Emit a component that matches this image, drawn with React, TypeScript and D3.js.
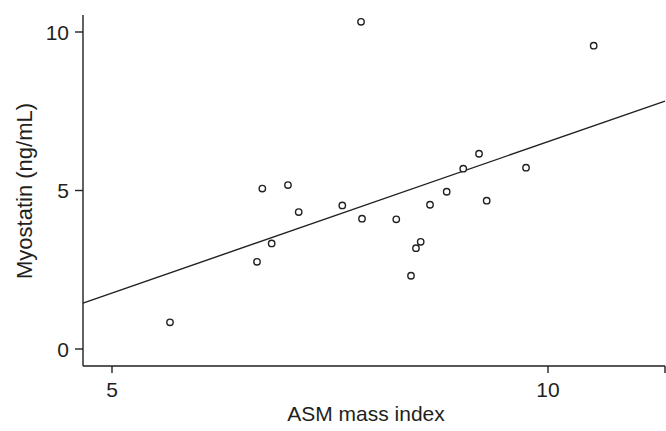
import React from "react";
import * as d3 from "d3";

const asmIndex = [5.665, 6.663, 6.724, 6.831, 7.018, 7.141, 7.641, 7.856, 7.867, 8.26, 8.429, 8.486, 8.54, 8.647, 8.838, 9.028, 9.209, 9.297, 9.748, 10.524];
const myostatin = [0.84, 2.75, 5.06, 3.33, 5.17, 4.32, 4.53, 10.32, 4.11, 4.09, 2.31, 3.18, 3.38, 4.55, 4.96, 5.69, 6.16, 4.68, 5.72, 9.57];
const xTicks = [5, 10];
const yTicks = [0, 5, 10];
const fitSlope = 0.955;
const fitIntercept = -3.01;

const W = 666, H = 431;
const left = 83, right = 665, top = 15, bottom = 366;
const ink = "#231f20";

export default function App() {
  const x = d3.scaleLinear().domain([5, 10]).range([112, 548]);
  const y = d3.scaleLinear().domain([0, 10]).range([349, 32]);
  const xMin = x.invert(left), xMax = x.invert(right);
  const line = d3.line<number>().x(v => x(v)).y(v => y(fitSlope * v + fitIntercept));
  const font = "Arial, 'Liberation Sans', sans-serif";
  return (
    <svg width={W} height={H} style={{ position: "absolute", left: 0, top: 0, background: "#fff" }} fontFamily={font}>
      <line x1={left} x2={left} y1={top} y2={bottom} stroke={ink} strokeWidth={1.4} />
      <line x1={left} x2={right} y1={bottom} y2={bottom} stroke={ink} strokeWidth={1.4} />
      {yTicks.map(t => (
        <g key={"y" + t}>
          <line x1={left - 8} x2={left} y1={y(t)} y2={y(t)} stroke={ink} strokeWidth={1.4} />
          <text x={left - 14} y={y(t)} dy="0.36em" textAnchor="end" fontSize={21} fill={ink}>{t}</text>
        </g>
      ))}
      {xTicks.map(t => (
        <g key={"x" + t}>
          <line x1={x(t)} x2={x(t)} y1={bottom} y2={bottom + 7} stroke={ink} strokeWidth={1.4} />
          <text x={x(t)} y={bottom + 31} textAnchor="middle" fontSize={21} fill={ink}>{t}</text>
        </g>
      ))}
      <line x1={right} x2={right} y1={bottom} y2={bottom + 7} stroke={ink} strokeWidth={1.4} />
      <text x={366} y={421} textAnchor="middle" fontSize={21} fill={ink}>ASM mass index</text>
      <text transform={`translate(32,191) rotate(-90)`} textAnchor="middle" fontSize={22} fill={ink}>Myostatin (ng/mL)</text>
      <path d={line([xMin, xMax]) || ""} fill="none" stroke={ink} strokeWidth={1.4} />
      {asmIndex.map((v, i) => (
        <circle key={i} cx={x(v)} cy={y(myostatin[i])} r={3.2} fill="#fff" stroke={ink} strokeWidth={1.4} />
      ))}
    </svg>
  );
}
